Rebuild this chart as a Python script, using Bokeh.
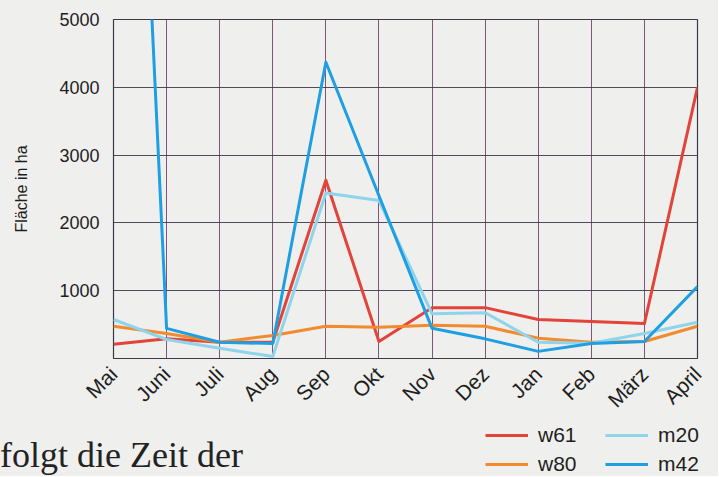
from math import pi
from bokeh.plotting import figure
from bokeh.layouts import column, row
from bokeh.models import Range1d, FixedTicker, Legend, LegendItem, Div
from bokeh.embed import file_html
from bokeh.resources import INLINE

months = ["Mai", "Juni", "Juli", "Aug", "Sep", "Okt", "Nov", "Dez", "Jan", "Feb", "März", "April"]
w61 = [210, 290, 240, 240, 2630, 250, 750, 750, 575, 545, 515, 4000]
w80 = [475, 370, 240, 340, 475, 460, 490, 475, 300, 240, 250, 475]
m20 = [575, 280, 150, 30, 2440, 2330, 660, 675, 240, 225, 370, 535]
m42 = [17000, 445, 240, 220, 4370, 2400, 445, 290, 105, 220, 250, 1060]
y_ticks = [1000, 2000, 3000, 4000, 5000]
series_names = ["w61", "w80", "m20", "m42"]
series_colors = ["#e2443a", "#f28a2e", "#8fd4ea", "#1d9fe2"]
caption = "folgt die Zeit der"

x = list(range(len(months)))
BG = "#efefed"
W = 718
P_H = 422
S_H = 54

p = figure(width=W, height=P_H, output_backend="svg", toolbar_location=None,
           x_range=Range1d(0, len(months) - 1), y_range=Range1d(0, 5000),
           min_border_left=113, min_border_right=21, min_border_top=19, min_border_bottom=P_H - 358)
p.background_fill_color = BG
p.border_fill_color = BG
p.outline_line_color = "#3c3a48"
p.outline_line_width = 1.2

p.xaxis.ticker = FixedTicker(ticks=x)
p.xaxis.major_label_overrides = {i: m for i, m in enumerate(months)}
p.xaxis.major_label_orientation = pi / 4
p.yaxis.ticker = FixedTicker(ticks=y_ticks)
for ax in (p.xaxis, p.yaxis):
    ax.axis_line_color = None
    ax.major_tick_line_color = None
    ax.major_tick_out = 0
    ax.major_tick_in = 0
    ax.minor_tick_line_color = None
    ax.major_label_text_font = "Liberation Sans"
    ax.major_label_text_color = "#1e1e1e"
p.xaxis.major_label_text_font_size = "21px"
p.yaxis.major_label_text_font_size = "18px"
p.xaxis.major_label_standoff = 12
p.yaxis.major_label_standoff = 14
p.yaxis.axis_label = "Fläche in ha"
p.yaxis.axis_label_text_font = "Liberation Sans"
p.yaxis.axis_label_text_font_style = "normal"
p.yaxis.axis_label_text_font_size = "16px"
p.yaxis.axis_label_text_color = "#1e1e1e"
p.yaxis.axis_label_standoff = 26

p.xgrid.grid_line_color = "#6b3a63"
p.xgrid.grid_line_width = 1
p.xgrid.grid_line_alpha = 0.85
p.ygrid.grid_line_color = "#3c3a48"
p.ygrid.grid_line_width = 1.2
p.ygrid.grid_line_alpha = 0.9

all_series = [w61, w80, m20, m42]
for vals, col in zip(all_series, series_colors):
    p.line(x, vals, line_color=col, line_width=3, line_join="round")

# caption text (body text of the page) on the left
DIV_W = 262
div = Div(text=('<div style="font-family:\'Liberation Serif\',serif; font-size:36px; '
                'line-height:' + str(S_H) + 'px; color:#222222; white-space:nowrap; position:relative; '
                'top:6px; margin:0; padding:0;">' + caption + '</div>'),
          width=DIV_W, height=S_H, margin=0)

# legend strip below the chart (right part)
q = figure(width=W - DIV_W, height=S_H, output_backend="svg", toolbar_location=None,
           x_range=Range1d(-1, -0.5), y_range=Range1d(-1, -0.5),
           x_axis_location=None, y_axis_location=None,
           min_border_left=0, min_border_right=0, min_border_top=0, min_border_bottom=0)
q.background_fill_color = BG
q.border_fill_color = BG
q.outline_line_color = None
q.xgrid.visible = False
q.ygrid.visible = False
proxies = {n: q.line(x, vals, line_color=c, line_width=3)
           for n, vals, c in zip(series_names, all_series, series_colors)}
legend = Legend(items=[LegendItem(label=n, renderers=[proxies[n]]) for n in series_names],
                location=(223, 0), ncols=2,
                label_text_font="Liberation Sans", label_text_font_size="21px",
                label_text_color="#1e1e1e", glyph_width=43, glyph_height=22,
                label_standoff=10, label_width=62, spacing=5, padding=0, margin=0,
                background_fill_alpha=0, border_line_color=None)
q.add_layout(legend, "center")

layout = column(p, row(div, q, spacing=0), spacing=0,
                styles={"background-color": BG})
open("out.html", "w").write(file_html(layout, INLINE))
